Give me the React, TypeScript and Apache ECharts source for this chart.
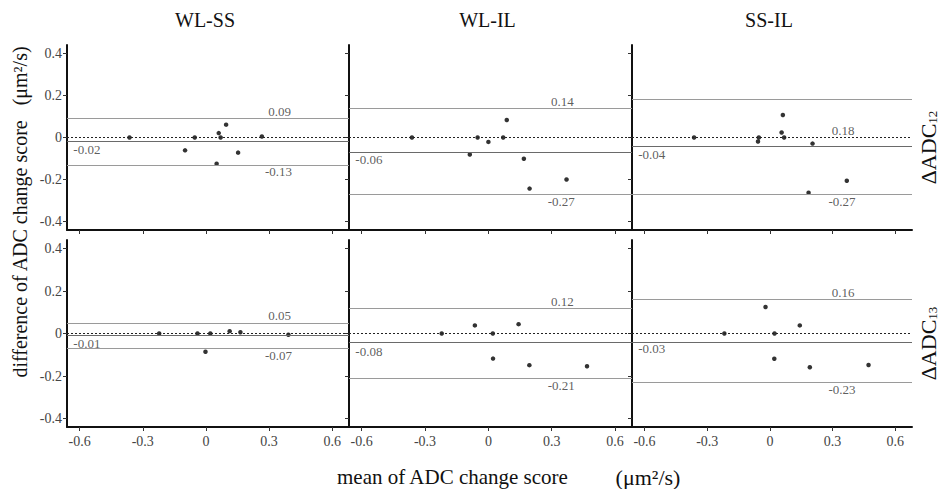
import React, { useEffect, useRef } from "react";
import * as echarts from "echarts";

// ---------- data ----------
const columnTitles = ["WL-SS", "WL-IL", "SS-IL"];
const rowSubscripts = ["12", "13"];
const xTicks = [-0.6, -0.3, 0, 0.3, 0.6];
const yTicks = [-0.4, -0.2, 0, 0.2, 0.4];

// ΔADC12 row
const wlss12Mean = [-0.363, -0.053, -0.099, 0.061, 0.07, 0.096, 0.051, 0.153, 0.266];
const wlss12Diff = [0, 0, -0.061, 0.021, 0, 0.061, -0.125, -0.072, 0.005];
const wlss12Lines = [0.09, -0.02, -0.13];
const wlss12Texts = ["0.09", "-0.02", "-0.13"];

const wlil12Mean = [-0.362, -0.051, -0.088, 0.0, 0.07, 0.087, 0.168, 0.195, 0.37];
const wlil12Diff = [0, 0, -0.081, -0.021, 0, 0.083, -0.101, -0.243, -0.2];
const wlil12Lines = [0.14, -0.065, -0.27];
const wlil12Texts = ["0.14", "-0.06", "-0.27"];

const ssil12Mean = [-0.363, -0.053, -0.057, 0.056, 0.068, 0.062, 0.204, 0.185, 0.368];
const ssil12Diff = [0, 0, -0.019, 0.024, 0, 0.107, -0.029, -0.263, -0.206];
const ssil12Lines = [0.18, -0.045, -0.27];
const ssil12Texts = ["0.18", "-0.04", "-0.27"];

// ΔADC13 row
const wlss13Mean = [-0.222, -0.04, 0.021, 0.113, 0.164, 0.392, -0.002];
const wlss13Diff = [0, 0, 0, 0.011, 0.006, -0.006, -0.086];
const wlss13Lines = [0.05, -0.01, -0.07];
const wlss13Texts = ["0.05", "-0.01", "-0.07"];

const wlil13Mean = [-0.221, -0.064, 0.021, 0.143, 0.022, 0.194, 0.467];
const wlil13Diff = [0, 0.038, 0, 0.044, -0.118, -0.149, -0.154];
const wlil13Lines = [0.12, -0.045, -0.21];
const wlil13Texts = ["0.12", "-0.08", "-0.21"];

const ssil13Mean = [-0.218, -0.021, 0.022, 0.143, 0.021, 0.191, 0.472];
const ssil13Diff = [0, 0.125, 0, 0.038, -0.119, -0.159, -0.148];
const ssil13Lines = [0.16, -0.035, -0.23];
const ssil13Texts = ["0.16", "-0.03", "-0.23"];

// y value where the upper-limit text is anchored, per panel
const upperTextAnchorY = [0.09, 0.14, 0, 0.05, 0.12, 0.16];

const panels = [
  { mean: wlss12Mean, diff: wlss12Diff, lines: wlss12Lines, texts: wlss12Texts },
  { mean: wlil12Mean, diff: wlil12Diff, lines: wlil12Lines, texts: wlil12Texts },
  { mean: ssil12Mean, diff: ssil12Diff, lines: ssil12Lines, texts: ssil12Texts },
  { mean: wlss13Mean, diff: wlss13Diff, lines: wlss13Lines, texts: wlss13Texts },
  { mean: wlil13Mean, diff: wlil13Diff, lines: wlil13Lines, texts: wlil13Texts },
  { mean: ssil13Mean, diff: ssil13Diff, lines: ssil13Lines, texts: ssil13Texts },
];

// ---------- layout ----------
const gridLefts = [67, 349, 632];
const gridWidths = [282, 283, 280];
const gridTops = [45, 240];
const gridHeights = [185, 187];
const SERIF = "Liberation Serif";

const richStyle = (size: number, color = "#111") => ({
  fontFamily: SERIF,
  fontSize: size,
  fill: color,
  color,
});

export default function App() {
  const ref = useRef<HTMLDivElement>(null);

  useEffect(() => {
    if (!ref.current) return;
    const chart = echarts.init(ref.current, undefined, { renderer: "svg" });

    const grids: any[] = [];
    const xAxes: any[] = [];
    const yAxes: any[] = [];
    const series: any[] = [];

    const tickLabel = (show: boolean, vals: number[], margin: number) => ({
      show,
      customValues: vals,
      margin,
      fontFamily: SERIF,
      fontSize: 14,
      color: "#444",
      formatter: (v: number) => `{t|${v}}`,
      rich: { t: { fontFamily: SERIF, fontSize: 14, color: "#444" } },
    });

    panels.forEach((p, i) => {
      const row = Math.floor(i / 3);
      const col = i % 3;
      grids.push({
        left: gridLefts[col],
        top: gridTops[row],
        width: gridWidths[col],
        height: gridHeights[row],
        containLabel: false,
      });
      xAxes.push({
        type: "value",
        gridIndex: i,
        min: -0.66,
        max: 0.68,
        splitLine: { show: false },
        axisLine: { show: true, onZero: false, lineStyle: { color: "#111", width: 2 } },
        axisTick: { show: true, inside: false, length: 4, customValues: xTicks, lineStyle: { color: "#333" } },
        axisLabel: tickLabel(row === 1, xTicks, 7),
      });
      yAxes.push({
        type: "value",
        gridIndex: i,
        min: -0.44,
        max: 0.44,
        splitLine: { show: false },
        axisLine: { show: true, onZero: false, lineStyle: { color: "#111", width: 2 } },
        axisTick: { show: true, inside: false, length: 4, customValues: yTicks, lineStyle: { color: "#333" } },
        axisLabel: tickLabel(col === 0, yTicks, 5),
      });

      const [upper, meanLine, lower] = p.lines;
      series.push({
        type: "scatter",
        xAxisIndex: i,
        yAxisIndex: i,
        symbol: "circle",
        symbolSize: 4.5,
        itemStyle: { color: "#000" },
        data: p.mean.map((m, k) => [m, p.diff[k]]),
        markLine: {
          silent: true,
          symbol: ["none", "none"],
          label: { show: false },
          data: [
            { yAxis: upper, lineStyle: { color: "#9a9a9a", width: 1.2, type: "solid" } },
            { yAxis: lower, lineStyle: { color: "#9a9a9a", width: 1.2, type: "solid" } },
            { yAxis: meanLine, lineStyle: { color: "#6a6a6a", width: 1.2, type: "solid" } },
            { yAxis: 0, lineStyle: { color: "#222", width: 1, type: [2, 2] } },
          ],
        },
      });

      const labelBase = {
        show: true,
        fontFamily: SERIF,
        fontSize: 13,
        color: "#333",
        rich: { t: { fontFamily: SERIF, fontSize: 13, color: "#333" } },
      };
      series.push({
        type: "scatter",
        xAxisIndex: i,
        yAxisIndex: i,
        symbolSize: 1,
        itemStyle: { color: "rgba(0,0,0,0)" },
        silent: true,
        data: [
          {
            value: [0.35, upperTextAnchorY[i]],
            label: { ...labelBase, formatter: `{t|${p.texts[0]}}`, position: "top", distance: 0 },
          },
          {
            value: [0.345, lower],
            label: { ...labelBase, formatter: `{t|${p.texts[2]}}`, position: "bottom", distance: 0 },
          },
          {
            value: [-0.63, meanLine],
            label: { ...labelBase, formatter: `{t|${p.texts[1]}}`, position: "bottom", distance: 1, align: "left" },
          },
        ],
      });
    });

    const graphics: any[] = [];
    const richText = (x: number, y: number, text: string, size: number, align: string, rotation = 0) => ({
      type: "text",
      x,
      y,
      rotation,
      style: {
        text: `{t|${text}}`,
        align,
        verticalAlign: "middle",
        fill: "#111",
        rich: { t: richStyle(size) },
      },
    });

    columnTitles.forEach((t, c) => {
      graphics.push(richText(gridLefts[c] + gridWidths[c] / 2 - 3, 20, t, 20, "center"));
    });
    rowSubscripts.forEach((s, r) => {
      graphics.push({
        type: "text",
        x: 927,
        y: gridTops[r] + gridHeights[r] / 2 + 10,
        rotation: Math.PI / 2,
        style: {
          text: `{a|ΔADC}{s|${s}}`,
          align: "center",
          verticalAlign: "middle",
          fill: "#111",
          rich: {
            a: { ...richStyle(22), verticalAlign: "bottom", lineHeight: 24 },
            s: { ...richStyle(13), verticalAlign: "bottom", lineHeight: 20 },
          },
        },
      });
    });
    // y-axis title
    graphics.push(richText(20, 212, "difference of ADC change score   (μm²/s)", 20, "center", Math.PI / 2));
    // x-axis title
    graphics.push(richText(337, 477, "mean of ADC change score", 21, "left"));
    graphics.push(richText(648, 477, "(μm²/s)", 22, "center"));

    chart.setOption({
      animation: false,
      backgroundColor: "#fff",
      grid: grids,
      xAxis: xAxes,
      yAxis: yAxes,
      series,
      graphic: graphics,
    });

    return () => chart.dispose();
  }, []);

  return <div ref={ref} style={{ width: 942, height: 489, position: "absolute", left: 0, top: 0 }} />;
}
